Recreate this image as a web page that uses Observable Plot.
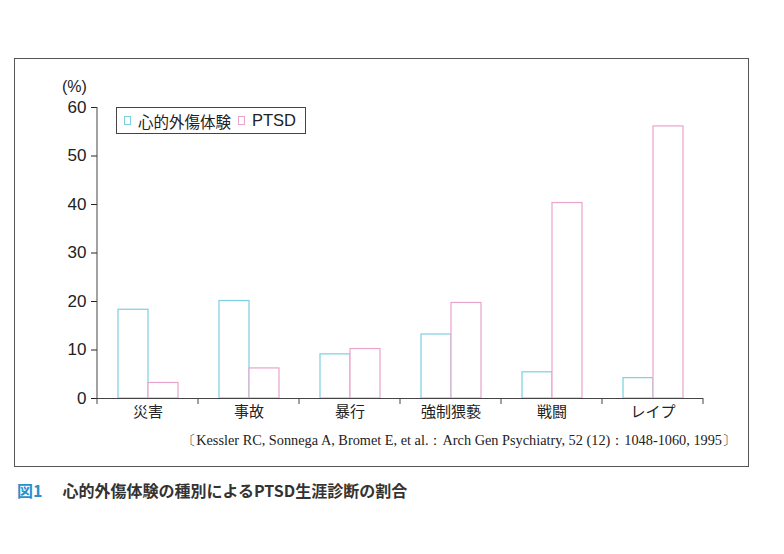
<!DOCTYPE html>
<html><head><meta charset="utf-8">
<script src="https://cdn.jsdelivr.net/npm/d3@7"></script>
<script src="https://cdn.jsdelivr.net/npm/@observablehq/plot@0.6"></script>
<style>
body{margin:0;background:#fff;width:784px;height:554px;position:relative;overflow:hidden;font-family:"Liberation Sans","Noto Sans CJK JP",sans-serif;color:#222;}
#frame{position:absolute;left:14px;top:58px;width:735px;height:409px;border:1px solid #555;box-sizing:border-box;}
#chart{position:absolute;left:0;top:0;}
#unit{position:absolute;left:62px;top:78px;font-size:16px;line-height:18px;}
#legend{position:absolute;left:116px;top:107px;width:190px;height:27px;border:1px solid #444;box-sizing:border-box;display:flex;align-items:center;font-size:15.5px;background:#fff;}
#legend .sw{display:inline-block;width:7px;height:9px;border:1px solid;box-sizing:border-box;margin-left:7px;margin-right:7px;}
#legend .lab2{font-size:16.5px;}
#cite{position:absolute;right:48px;top:431px;font-family:"Liberation Serif",serif;font-size:14.3px;white-space:nowrap;}
#caption{position:absolute;left:17px;top:478px;font-size:16px;font-weight:bold;white-space:nowrap;font-family:"Noto Sans CJK JP","Liberation Sans",sans-serif;color:#333;}
#caption .fig{color:#2a8fd0;margin-right:20px;}
</style></head>
<body>
<div id="frame"></div>
<div id="chart"></div>
<div id="unit">(%)</div>
<div id="legend"></div>
<div id="cite">〔Kessler RC, Sonnega A, Bromet E, et al.：Arch Gen Psychiatry, 52 (12)：1048-1060, 1995〕</div>
<div id="caption"><span class="fig">図1</span>心的外傷体験の種別によるPTSD生涯診断の割合</div>
<script>
const categories = ["災害", "事故", "暴行", "強制猥褻", "戦闘", "レイプ"];
const series = ["心的外傷体験", "PTSD"];
const traumaValues = [18.3, 20.1, 9.1, 13.2, 5.4, 4.2];
const ptsdValues = [3.2, 6.2, 10.2, 19.7, 40.3, 56.1];
const yTicks = [0, 10, 20, 30, 40, 50, 60];
const colors = ["#7ccfe1", "#eaa3cb"];

const data = [];
categories.forEach((c, i) => {
  data.push({category: c, series: series[0], value: traumaValues[i]});
  data.push({category: c, series: series[1], value: ptsdValues[i]});
});

const chart = Plot.plot({
  width: 784, height: 450,
  marginTop: 107, marginBottom: 52, marginLeft: 97, marginRight: 81,
  style: {fontFamily: '"Liberation Sans","Noto Sans CJK JP",sans-serif', fontSize: "17px", color: "#222", background: "transparent"},
  fx: {domain: categories, paddingInner: 0, paddingOuter: 0, label: null, axis: null},
  x: {domain: series, paddingInner: 0, paddingOuter: 0.68, axis: null},
  y: {domain: [0, 60], label: null, axis: null},
  color: {domain: series, range: colors},
  marks: [
    Plot.axisY({ticks: yTicks, label: null, tickSize: 6, tickPadding: 5, fontSize: 17}),
    Plot.axisFx({anchor: "bottom", label: null, tickSize: 0, tickPadding: 8, fontSize: 15}),
    Plot.barY(data, {fx: "category", x: "series", y: "value", stroke: "series", fill: "white", strokeWidth: 1.2}),
    Plot.ruleY([0], {stroke: "#444", strokeWidth: 1})
  ]
});
document.getElementById("chart").appendChild(chart);

// axis line and boundary ticks derived from the scales
const fx = chart.scale("fx"), y = chart.scale("y");
const svg = d3.select(chart);
const g = svg.append("g").attr("stroke", "#444").attr("stroke-width", 1);
const x0 = fx.apply(categories[0]);
g.append("line").attr("x1", x0).attr("x2", x0).attr("y1", y.apply(0)).attr("y2", y.apply(60));
const bounds = categories.map(c => fx.apply(c)).concat([fx.apply(categories[categories.length - 1]) + fx.bandwidth]);
bounds.forEach(b => g.append("line").attr("x1", b).attr("x2", b).attr("y1", y.apply(0)).attr("y2", y.apply(0) + 6));

// legend
const lg = d3.select("#legend");
series.forEach((s, i) => {
  lg.append("span").attr("class", "sw").style("border-color", colors[i]);
  lg.append("span").attr("class", "lab" + (i + 1)).text(s);
});
</script>
</body></html>
